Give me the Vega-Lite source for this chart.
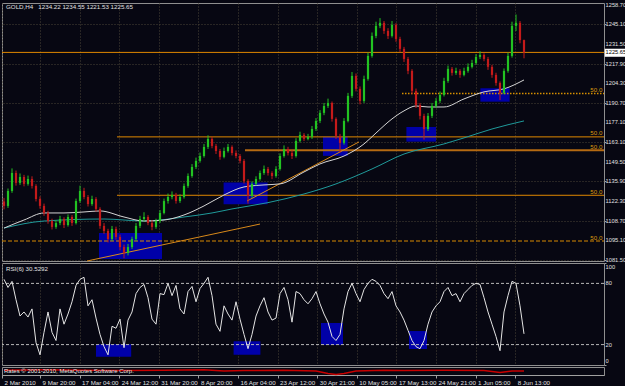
{
"$schema":"https://vega.github.io/schema/vega-lite/v6.json",
"autosize":{"type":"pad"},
"padding":{"left":0,"top":1,"right":0,"bottom":0},
"background":"#070712",
"spacing":2,
"bounds":"flush",
"config":{
 "view":{"stroke":"#8f8f8f","strokeWidth":1},
 "font":"Liberation Sans",
 "text":{"font":"Liberation Sans"},
 "axis":{"labelFont":"Liberation Sans","labelFontSize":6.2,"labelColor":"#e0e0e0","tickColor":"#a0a0a0","domainColor":"#a0a0a0","gridColor":"#4a4436","gridDash":[1,2],"gridOpacity":1,"labelOverlap":false}
},
"datasets":{
 "bars":[
{"i":0,"o":1122.0,"h":1124.5,"l":1116.5,"c":1118.9,"r":84},
{"i":1,"o":1118.9,"h":1131.0,"l":1117.5,"c":1129.3,"r":76},
{"i":2,"o":1129.3,"h":1145.0,"l":1128.0,"c":1141.8,"r":82},
{"i":3,"o":1141.8,"h":1143.5,"l":1133.0,"c":1134.9,"r":64},
{"i":4,"o":1134.9,"h":1141.5,"l":1133.5,"c":1139.0,"r":48},
{"i":5,"o":1139.0,"h":1140.5,"l":1132.5,"c":1134.2,"r":52},
{"i":6,"o":1134.2,"h":1140.0,"l":1133.0,"c":1137.6,"r":47},
{"i":7,"o":1137.6,"h":1139.5,"l":1131.0,"c":1132.8,"r":55},
{"i":8,"o":1132.8,"h":1134.0,"l":1122.0,"c":1123.7,"r":22},
{"i":9,"o":1123.7,"h":1125.5,"l":1117.0,"c":1118.9,"r":10},
{"i":10,"o":1118.9,"h":1120.5,"l":1112.0,"c":1114.0,"r":32},
{"i":11,"o":1114.0,"h":1115.5,"l":1106.5,"c":1108.4,"r":52},
{"i":12,"o":1108.4,"h":1110.0,"l":1102.5,"c":1104.3,"r":32},
{"i":13,"o":1104.3,"h":1109.0,"l":1103.0,"c":1107.0,"r":24},
{"i":14,"o":1107.0,"h":1112.0,"l":1105.5,"c":1109.8,"r":55},
{"i":15,"o":1109.8,"h":1111.0,"l":1103.5,"c":1105.6,"r":40},
{"i":16,"o":1105.6,"h":1113.0,"l":1104.5,"c":1111.2,"r":50},
{"i":17,"o":1111.2,"h":1112.5,"l":1105.0,"c":1107.0,"r":62},
{"i":18,"o":1107.0,"h":1124.0,"l":1106.0,"c":1122.3,"r":78},
{"i":19,"o":1122.3,"h":1133.0,"l":1121.0,"c":1129.3,"r":84},
{"i":20,"o":1129.3,"h":1131.5,"l":1123.5,"c":1125.1,"r":86},
{"i":21,"o":1125.1,"h":1126.5,"l":1118.5,"c":1120.2,"r":58},
{"i":22,"o":1120.2,"h":1126.0,"l":1119.0,"c":1123.7,"r":64},
{"i":23,"o":1123.7,"h":1125.0,"l":1115.0,"c":1116.8,"r":46},
{"i":24,"o":1116.8,"h":1118.0,"l":1103.0,"c":1105.0,"r":30},
{"i":25,"o":1105.0,"h":1107.0,"l":1099.5,"c":1101.5,"r":18},
{"i":26,"o":1101.5,"h":1103.0,"l":1093.5,"c":1095.9,"r":10},
{"i":27,"o":1095.9,"h":1105.0,"l":1094.5,"c":1102.9,"r":38},
{"i":28,"o":1102.9,"h":1104.5,"l":1095.5,"c":1097.3,"r":36},
{"i":29,"o":1097.3,"h":1099.0,"l":1088.0,"c":1090.3,"r":45},
{"i":30,"o":1090.3,"h":1092.0,"l":1082.5,"c":1086.2,"r":17},
{"i":31,"o":1086.2,"h":1092.5,"l":1084.5,"c":1090.3,"r":44},
{"i":32,"o":1090.3,"h":1097.5,"l":1089.0,"c":1095.9,"r":52},
{"i":33,"o":1095.9,"h":1107.0,"l":1094.5,"c":1105.0,"r":70},
{"i":34,"o":1105.0,"h":1112.0,"l":1103.5,"c":1109.8,"r":76},
{"i":35,"o":1109.8,"h":1114.5,"l":1108.0,"c":1111.2,"r":79},
{"i":36,"o":1111.2,"h":1112.5,"l":1105.5,"c":1107.0,"r":66},
{"i":37,"o":1107.0,"h":1109.0,"l":1102.0,"c":1104.3,"r":45},
{"i":38,"o":1104.3,"h":1110.0,"l":1103.0,"c":1108.4,"r":40},
{"i":39,"o":1108.4,"h":1116.0,"l":1107.0,"c":1114.0,"r":70},
{"i":40,"o":1114.0,"h":1124.0,"l":1113.0,"c":1122.3,"r":69},
{"i":41,"o":1122.3,"h":1127.5,"l":1120.5,"c":1125.1,"r":80},
{"i":42,"o":1125.1,"h":1129.0,"l":1123.5,"c":1126.5,"r":68},
{"i":43,"o":1126.5,"h":1128.0,"l":1120.5,"c":1122.3,"r":78},
{"i":44,"o":1122.3,"h":1127.0,"l":1121.0,"c":1125.1,"r":55},
{"i":45,"o":1125.1,"h":1134.5,"l":1124.0,"c":1132.8,"r":50},
{"i":46,"o":1132.8,"h":1141.5,"l":1131.5,"c":1139.7,"r":72},
{"i":47,"o":1139.7,"h":1148.0,"l":1138.5,"c":1146.0,"r":77},
{"i":48,"o":1146.0,"h":1152.5,"l":1144.5,"c":1150.2,"r":62},
{"i":49,"o":1150.2,"h":1156.0,"l":1149.0,"c":1153.6,"r":75},
{"i":50,"o":1153.6,"h":1162.0,"l":1152.5,"c":1159.9,"r":80},
{"i":51,"o":1159.9,"h":1168.0,"l":1158.5,"c":1165.5,"r":86},
{"i":52,"o":1165.5,"h":1167.0,"l":1159.0,"c":1160.6,"r":68},
{"i":53,"o":1160.6,"h":1162.0,"l":1155.0,"c":1157.1,"r":40},
{"i":54,"o":1157.1,"h":1158.5,"l":1151.0,"c":1153.0,"r":33},
{"i":55,"o":1153.0,"h":1159.5,"l":1152.0,"c":1157.1,"r":58},
{"i":56,"o":1157.1,"h":1162.0,"l":1156.0,"c":1159.9,"r":50},
{"i":57,"o":1159.9,"h":1161.0,"l":1154.0,"c":1155.7,"r":44},
{"i":58,"o":1155.7,"h":1157.5,"l":1152.0,"c":1153.6,"r":62},
{"i":59,"o":1153.6,"h":1155.0,"l":1148.5,"c":1150.2,"r":45},
{"i":60,"o":1150.2,"h":1151.5,"l":1134.5,"c":1136.3,"r":30},
{"i":61,"o":1136.3,"h":1137.5,"l":1120.5,"c":1125.8,"r":16},
{"i":62,"o":1125.8,"h":1136.0,"l":1124.5,"c":1134.2,"r":30},
{"i":63,"o":1134.2,"h":1139.5,"l":1133.0,"c":1137.6,"r":48},
{"i":64,"o":1137.6,"h":1143.5,"l":1136.5,"c":1141.8,"r":58},
{"i":65,"o":1141.8,"h":1147.0,"l":1140.5,"c":1144.6,"r":66},
{"i":66,"o":1144.6,"h":1146.0,"l":1140.0,"c":1141.8,"r":52},
{"i":67,"o":1141.8,"h":1143.0,"l":1137.5,"c":1139.7,"r":44},
{"i":68,"o":1139.7,"h":1146.5,"l":1138.5,"c":1144.6,"r":46},
{"i":69,"o":1144.6,"h":1155.5,"l":1143.5,"c":1153.6,"r":70},
{"i":70,"o":1153.6,"h":1161.0,"l":1152.5,"c":1158.5,"r":76},
{"i":71,"o":1158.5,"h":1160.0,"l":1154.0,"c":1155.7,"r":64},
{"i":72,"o":1155.7,"h":1157.5,"l":1151.5,"c":1153.6,"r":42},
{"i":73,"o":1153.6,"h":1166.0,"l":1152.5,"c":1164.1,"r":72},
{"i":74,"o":1164.1,"h":1170.5,"l":1163.0,"c":1168.3,"r":70},
{"i":75,"o":1168.3,"h":1169.5,"l":1164.0,"c":1165.5,"r":64},
{"i":76,"o":1165.5,"h":1169.0,"l":1164.5,"c":1166.9,"r":60},
{"i":77,"o":1166.9,"h":1174.5,"l":1165.5,"c":1172.4,"r":65},
{"i":78,"o":1172.4,"h":1180.0,"l":1171.0,"c":1178.0,"r":72},
{"i":79,"o":1178.0,"h":1185.5,"l":1176.5,"c":1183.6,"r":60},
{"i":80,"o":1183.6,"h":1190.5,"l":1182.0,"c":1188.4,"r":50},
{"i":81,"o":1188.4,"h":1193.5,"l":1187.0,"c":1190.5,"r":42},
{"i":82,"o":1190.5,"h":1191.5,"l":1177.5,"c":1179.4,"r":28},
{"i":83,"o":1179.4,"h":1180.5,"l":1165.5,"c":1167.6,"r":24},
{"i":84,"o":1167.6,"h":1169.0,"l":1156.0,"c":1162.7,"r":30},
{"i":85,"o":1162.7,"h":1180.0,"l":1161.5,"c":1178.0,"r":55},
{"i":86,"o":1178.0,"h":1197.5,"l":1177.0,"c":1195.4,"r":72},
{"i":87,"o":1195.4,"h":1212.0,"l":1194.0,"c":1209.3,"r":80},
{"i":88,"o":1209.3,"h":1211.0,"l":1198.5,"c":1200.3,"r":70},
{"i":89,"o":1200.3,"h":1202.0,"l":1189.5,"c":1191.9,"r":62},
{"i":90,"o":1191.9,"h":1209.5,"l":1190.5,"c":1207.2,"r":74},
{"i":91,"o":1207.2,"h":1225.5,"l":1206.0,"c":1223.2,"r":80},
{"i":92,"o":1223.2,"h":1239.5,"l":1222.0,"c":1237.1,"r":84},
{"i":93,"o":1237.1,"h":1247.0,"l":1235.5,"c":1244.1,"r":82},
{"i":94,"o":1244.1,"h":1249.5,"l":1242.5,"c":1246.2,"r":78},
{"i":95,"o":1246.2,"h":1247.5,"l":1238.5,"c":1240.6,"r":70},
{"i":96,"o":1240.6,"h":1242.5,"l":1235.0,"c":1237.1,"r":65},
{"i":97,"o":1237.1,"h":1247.5,"l":1236.0,"c":1244.8,"r":72},
{"i":98,"o":1244.8,"h":1246.0,"l":1233.0,"c":1235.0,"r":58},
{"i":99,"o":1235.0,"h":1236.5,"l":1226.0,"c":1228.1,"r":52},
{"i":100,"o":1228.1,"h":1229.5,"l":1219.0,"c":1221.1,"r":44},
{"i":101,"o":1221.1,"h":1222.5,"l":1210.5,"c":1212.8,"r":34},
{"i":102,"o":1212.8,"h":1214.0,"l":1196.5,"c":1198.9,"r":24},
{"i":103,"o":1198.9,"h":1200.5,"l":1187.0,"c":1189.1,"r":18},
{"i":104,"o":1189.1,"h":1190.5,"l":1179.0,"c":1181.5,"r":16},
{"i":105,"o":1181.5,"h":1183.0,"l":1165.0,"c":1172.4,"r":24},
{"i":106,"o":1172.4,"h":1183.5,"l":1171.0,"c":1181.5,"r":40},
{"i":107,"o":1181.5,"h":1190.5,"l":1180.0,"c":1188.4,"r":52},
{"i":108,"o":1188.4,"h":1194.0,"l":1187.0,"c":1191.9,"r":58},
{"i":109,"o":1191.9,"h":1198.5,"l":1190.5,"c":1196.1,"r":62},
{"i":110,"o":1196.1,"h":1208.0,"l":1195.0,"c":1205.8,"r":72},
{"i":111,"o":1205.8,"h":1216.5,"l":1204.5,"c":1214.2,"r":76},
{"i":112,"o":1214.2,"h":1215.5,"l":1209.5,"c":1211.4,"r":68},
{"i":113,"o":1211.4,"h":1215.0,"l":1210.0,"c":1212.8,"r":70},
{"i":114,"o":1212.8,"h":1214.0,"l":1208.0,"c":1210.0,"r":62},
{"i":115,"o":1210.0,"h":1215.0,"l":1209.0,"c":1212.8,"r":70},
{"i":116,"o":1212.8,"h":1218.0,"l":1211.5,"c":1215.6,"r":74},
{"i":117,"o":1215.6,"h":1220.5,"l":1214.5,"c":1218.3,"r":78},
{"i":118,"o":1218.3,"h":1224.5,"l":1217.0,"c":1222.5,"r":80},
{"i":119,"o":1222.5,"h":1226.5,"l":1221.0,"c":1223.9,"r":79},
{"i":120,"o":1223.9,"h":1225.0,"l":1219.5,"c":1221.1,"r":66},
{"i":121,"o":1221.1,"h":1222.5,"l":1213.5,"c":1215.6,"r":52},
{"i":122,"o":1215.6,"h":1217.0,"l":1208.0,"c":1210.0,"r":40},
{"i":123,"o":1210.0,"h":1211.5,"l":1202.5,"c":1204.4,"r":28},
{"i":124,"o":1204.4,"h":1205.5,"l":1192.5,"c":1197.5,"r":14},
{"i":125,"o":1197.5,"h":1214.5,"l":1196.5,"c":1212.8,"r":52},
{"i":126,"o":1212.8,"h":1225.5,"l":1211.5,"c":1223.2,"r":68},
{"i":127,"o":1223.2,"h":1247.0,"l":1222.0,"c":1244.1,"r":82},
{"i":128,"o":1244.1,"h":1252.0,"l":1240.5,"c":1246.2,"r":80},
{"i":129,"o":1246.2,"h":1247.5,"l":1232.0,"c":1234.2,"r":58},
{"i":130,"o":1234.22,"h":1234.55,"l":1221.53,"c":1225.65,"r":30.5292}
 ],
 "fast":[
{"i":0,"p":1103.5},{"i":5,"p":1109.1},{"i":10,"p":1114.0},{"i":15,"p":1114.0},{"i":20,"p":1114.7},{"i":24,"p":1115.4},{"i":30,"p":1111.2},{"i":35,"p":1108.4},{"i":40,"p":1109.1},{"i":45,"p":1112.6},{"i":50,"p":1118.9},{"i":55,"p":1126.5},{"i":60,"p":1132.1},{"i":65,"p":1133.5},{"i":69,"p":1134.2},{"i":75,"p":1142.5},{"i":79,"p":1148.1},{"i":85,"p":1153.6},{"i":90,"p":1162.0},{"i":93,"p":1169.6},{"i":97,"p":1179.4},{"i":100,"p":1185.0},{"i":103,"p":1188.4},{"i":106,"p":1187.7},{"i":110,"p":1187.7},{"i":115,"p":1193.3},{"i":120,"p":1198.2},{"i":125,"p":1200.3},{"i":130,"p":1206.5}
 ],
 "slow":[
{"i":0,"p":1103.5},{"i":10,"p":1108.4},{"i":25,"p":1109.8},{"i":35,"p":1108.4},{"i":45,"p":1111.2},{"i":52,"p":1114.0},{"i":57,"p":1116.8},{"i":66,"p":1121.2},{"i":75,"p":1127.2},{"i":83,"p":1134.2},{"i":92,"p":1144.6},{"i":100,"p":1155.0},{"i":110,"p":1162.0},{"i":115,"p":1166.2},{"i":122,"p":1172.4},{"i":130,"p":1178.0}
 ],
 "osc":[
{"i":0,"v":6},{"i":10,"v":6.5},{"i":20,"v":6},{"i":30,"v":5.5},{"i":40,"v":6},{"i":50,"v":6.5},{"i":55,"v":5},{"i":60,"v":5.5},{"i":70,"v":6},{"i":78,"v":5},{"i":81,"v":2},{"i":83,"v":0.5},{"i":85,"v":2},{"i":88,"v":5},{"i":95,"v":6},{"i":100,"v":5.5},{"i":110,"v":6},{"i":120,"v":5.5},{"i":124,"v":3},{"i":127,"v":5},{"i":130,"v":5}
 ],
 "pticks":[
{"p":1258.7},{"p":1245.1},{"p":1231.5},{"p":1217.9},{"p":1204.3},{"p":1190.7},{"p":1177.1},{"p":1163.1},{"p":1149.5},{"p":1135.9},{"p":1122.3},{"p":1108.7},{"p":1095.1},{"p":1081.5}
 ]
},
"vconcat":[
{
 "width":602,"height":258,
 "layer":[
  {"data":{"values":[{"a":23.75,"b":39.5,"p1":1082.0,"p2":1100.1},{"a":54.9,"b":65.9,"p1":1120.0,"p2":1135.1},{"a":79.75,"b":85.9,"p1":1153.7,"p2":1166.9},{"a":100.6,"b":108,"p1":1163.6,"p2":1173.8},{"a":119.1,"b":126.4,"p1":1191.4,"p2":1200.7}]},
   "mark":{"type":"rect","color":"#0000a8"},
   "encoding":{
    "x":{"field":"a","type":"quantitative","scale":{"domain":[-0.5,150],"nice":false,"zero":false},"axis":{"title":null,"values":[-0.5,9,18.9,28.8,38.7,48.6,58.5,68.4,78.3,88.2,98.1,108,117.9,127.8],"labels":false,"ticks":false,"domain":false,"grid":true}},
    "x2":{"field":"b"},
    "y":{"field":"p1","type":"quantitative","scale":{"domain":[1080.6,1260],"nice":false,"zero":false},"axis":{"title":null,"orient":"right","values":[1258.7,1245.1,1231.5,1217.9,1204.3,1190.7,1177.1,1163.1,1149.5,1135.9,1122.3,1108.7,1095.1,1081.5],"labels":false,"grid":true,"domain":false,"tickSize":2}},
    "y2":{"field":"p2"}}},
  {"data":{"values":[{"from":-0.5,"to":150,"p":1225.65},{"from":28.25,"to":150,"p":1166.9},{"from":28.25,"to":150,"p":1126.3}]},
   "mark":{"type":"rule","color":"#e08800","strokeWidth":1},
   "encoding":{"x":{"field":"from","type":"quantitative","scale":{"domain":[-0.5,150],"nice":false,"zero":false}},"x2":{"field":"to"},"y":{"field":"p","type":"quantitative","scale":{"domain":[1080.6,1260],"nice":false,"zero":false}}}},
  {"data":{"values":[{"from":60.25,"to":150,"p":1157.6}]},
   "mark":{"type":"rule","color":"#b56a12","strokeWidth":2},
   "encoding":{"x":{"field":"from","type":"quantitative","scale":{"domain":[-0.5,150],"nice":false,"zero":false}},"x2":{"field":"to"},"y":{"field":"p","type":"quantitative","scale":{"domain":[1080.6,1260],"nice":false,"zero":false}}}},
  {"data":{"values":[{"from":99.5,"to":150,"p":1197.0}]},
   "mark":{"type":"rule","color":"#d89000","strokeWidth":1.5,"strokeDash":[1.5,1.5]},
   "encoding":{"x":{"field":"from","type":"quantitative","scale":{"domain":[-0.5,150],"nice":false,"zero":false}},"x2":{"field":"to"},"y":{"field":"p","type":"quantitative","scale":{"domain":[1080.6,1260],"nice":false,"zero":false}}}},
  {"data":{"values":[{"from":-0.5,"to":150,"p":1094.5}]},
   "mark":{"type":"rule","color":"#d88a00","strokeWidth":1,"strokeDash":[4,2]},
   "encoding":{"x":{"field":"from","type":"quantitative","scale":{"domain":[-0.5,150],"nice":false,"zero":false}},"x2":{"field":"to"},"y":{"field":"p","type":"quantitative","scale":{"domain":[1080.6,1260],"nice":false,"zero":false}}}},
  {"data":{"values":[{"id":1,"i":20.75,"p":1080.6},{"id":1,"i":64,"p":1106.3},{"id":2,"i":60.75,"p":1122.3},{"id":2,"i":88.75,"p":1163.4}]},
   "mark":{"type":"line","color":"#d8891a","strokeWidth":1},
   "encoding":{"x":{"field":"i","type":"quantitative","scale":{"domain":[-0.5,150],"nice":false,"zero":false}},"y":{"field":"p","type":"quantitative","scale":{"domain":[1080.6,1260],"nice":false,"zero":false}},"detail":{"field":"id","type":"nominal"}}},
  {"data":{"name":"slow"},
   "mark":{"type":"line","color":"#1f9a9a","strokeWidth":1,"interpolate":"monotone"},
   "encoding":{"x":{"field":"i","type":"quantitative","scale":{"domain":[-0.5,150],"nice":false,"zero":false}},"y":{"field":"p","type":"quantitative","scale":{"domain":[1080.6,1260],"nice":false,"zero":false}}}},
  {"data":{"name":"fast"},
   "mark":{"type":"line","color":"#d4d4d4","strokeWidth":1,"interpolate":"monotone"},
   "encoding":{"x":{"field":"i","type":"quantitative","scale":{"domain":[-0.5,150],"nice":false,"zero":false}},"y":{"field":"p","type":"quantitative","scale":{"domain":[1080.6,1260],"nice":false,"zero":false}}}},
  {"data":{"name":"bars"},
   "mark":{"type":"rule","strokeWidth":1},
   "encoding":{"x":{"field":"i","type":"quantitative","scale":{"domain":[-0.5,150],"nice":false,"zero":false}},"y":{"field":"l","type":"quantitative","scale":{"domain":[1080.6,1260],"nice":false,"zero":false}},"y2":{"field":"h"},
    "color":{"condition":{"test":"datum.c >= datum.o","value":"#22c322"},"value":"#c41a1a"}}},
  {"data":{"name":"bars"},
   "mark":{"type":"rule","strokeWidth":2.2,"strokeCap":"butt"},
   "encoding":{"x":{"field":"i","type":"quantitative","scale":{"domain":[-0.5,150],"nice":false,"zero":false}},"y":{"field":"o","type":"quantitative","scale":{"domain":[1080.6,1260],"nice":false,"zero":false}},"y2":{"field":"c"},
    "color":{"condition":{"test":"datum.c >= datum.o","value":"#22c322"},"value":"#c41a1a"}}},
  {"data":{"values":[{"p":1197.0,"t":"50.0"},{"p":1166.9,"t":"50.0"},{"p":1157.6,"t":"50.0"},{"p":1126.3,"t":"50.0"},{"p":1094.5,"t":"50.0"}]},
   "mark":{"type":"text","align":"right","baseline":"bottom","dy":-0.5,"color":"#d89a10","fontSize":6.2,"font":"Liberation Sans"},
   "encoding":{"x":{"datum":149.6,"type":"quantitative","scale":{"domain":[-0.5,150],"nice":false,"zero":false}},"y":{"field":"p","type":"quantitative","scale":{"domain":[1080.6,1260],"nice":false,"zero":false}},"text":{"field":"t"}}},
  {"data":{"values":[{"t":"GOLD,H4\u00a0\u00a0 1234.22 1234.55 1221.53 1225.65"}]},
   "mark":{"type":"text","align":"left","baseline":"middle","color":"#e0e0e0","fontSize":6.2,"font":"Liberation Sans"},
   "encoding":{"x":{"datum":0.5,"type":"quantitative","scale":{"domain":[-0.5,150],"nice":false,"zero":false}},"y":{"datum":1257.0,"type":"quantitative","scale":{"domain":[1080.6,1260],"nice":false,"zero":false}},"text":{"field":"t"}}},
  {"data":{"name":"pticks"},
   "mark":{"type":"text","align":"left","baseline":"middle","color":"#e0e0e0","fontSize":5.7,"font":"Liberation Sans"},
   "encoding":{"x":{"datum":150.4,"type":"quantitative","scale":{"domain":[-0.5,150],"nice":false,"zero":false}},"y":{"field":"p","type":"quantitative","scale":{"domain":[1080.6,1260],"nice":false,"zero":false}},"text":{"field":"p","type":"quantitative","format":".2f"}}},
  {"data":{"values":[{"p":1225.65}]},
   "mark":{"type":"rect","color":"#ffffff"},
   "encoding":{"x":{"datum":150.2,"type":"quantitative","scale":{"domain":[-0.5,150],"nice":false,"zero":false}},"x2":{"datum":157},"y":{"datum":1228.2,"type":"quantitative","scale":{"domain":[1080.6,1260],"nice":false,"zero":false}},"y2":{"datum":1222.6}}},
  {"data":{"values":[{"p":1225.65,"t":"1225.65"}]},
   "mark":{"type":"text","align":"left","baseline":"middle","color":"#000000","fontSize":5.7,"font":"Liberation Sans"},
   "encoding":{"x":{"datum":150.4,"type":"quantitative","scale":{"domain":[-0.5,150],"nice":false,"zero":false}},"y":{"field":"p","type":"quantitative","scale":{"domain":[1080.6,1260],"nice":false,"zero":false}},"text":{"field":"t"}}}
 ]
},
{
 "width":602,"height":102,
 "layer":[
  {"data":{"values":[{"a":23,"b":31.8,"r1":8.1,"r2":20.3},{"a":57.4,"b":64.1,"r1":10.1,"r2":23.2},{"a":79.25,"b":84.75,"r1":19.6,"r2":41.2},{"a":101.25,"b":105.75,"r1":15.7,"r2":33.3}]},
   "mark":{"type":"rect","color":"#0000a8"},
   "encoding":{
    "x":{"field":"a","type":"quantitative","scale":{"domain":[-0.5,150],"nice":false,"zero":false},"axis":{"title":null,"values":[-0.5,9,18.9,28.8,38.7,48.6,58.5,68.4,78.3,88.2,98.1,108,117.9,127.8],"labels":false,"ticks":false,"domain":false,"grid":true}},
    "x2":{"field":"b"},
    "y":{"field":"r1","type":"quantitative","scale":{"domain":[0,100],"nice":false,"zero":false},"axis":{"title":null,"orient":"right","values":[0,20,80,100],"labels":false,"grid":false,"domain":false,"tickSize":2}},
    "y2":{"field":"r2"}}},
  {"data":{"values":[{"v":20},{"v":80}]},
   "mark":{"type":"rule","color":"#b8b8b8","strokeWidth":1,"strokeDash":[3,2]},
   "encoding":{"y":{"field":"v","type":"quantitative","scale":{"domain":[0,100],"nice":false,"zero":false}}}},
  {"data":{"name":"bars"},
   "mark":{"type":"line","color":"#e4e4e4","strokeWidth":1},
   "encoding":{"x":{"field":"i","type":"quantitative","scale":{"domain":[-0.5,150],"nice":false,"zero":false}},"y":{"field":"r","type":"quantitative","scale":{"domain":[0,100],"nice":false,"zero":false}}}},
  {"data":{"values":[{"v":20},{"v":80}]},
   "mark":{"type":"text","align":"left","baseline":"middle","color":"#e0e0e0","fontSize":5.7,"font":"Liberation Sans"},
   "encoding":{"x":{"datum":150.4,"type":"quantitative","scale":{"domain":[-0.5,150],"nice":false,"zero":false}},"y":{"field":"v","type":"quantitative","scale":{"domain":[0,100],"nice":false,"zero":false}},"text":{"field":"v","type":"quantitative"}}},
  {"data":{"values":[{"v":100}]},
   "mark":{"type":"text","align":"left","baseline":"top","dy":1,"color":"#e0e0e0","fontSize":5.7,"font":"Liberation Sans"},
   "encoding":{"x":{"datum":150.4,"type":"quantitative","scale":{"domain":[-0.5,150],"nice":false,"zero":false}},"y":{"field":"v","type":"quantitative","scale":{"domain":[0,100],"nice":false,"zero":false}},"text":{"field":"v","type":"quantitative"}}},
  {"data":{"values":[{"v":0}]},
   "mark":{"type":"text","align":"left","baseline":"bottom","dy":-1,"color":"#e0e0e0","fontSize":5.7,"font":"Liberation Sans"},
   "encoding":{"x":{"datum":150.4,"type":"quantitative","scale":{"domain":[-0.5,150],"nice":false,"zero":false}},"y":{"field":"v","type":"quantitative","scale":{"domain":[0,100],"nice":false,"zero":false}},"text":{"field":"v","type":"quantitative"}}},
  {"data":{"values":[{"t":"RSI(6) 30.5292"}]},
   "mark":{"type":"text","align":"left","baseline":"middle","color":"#e0e0e0","fontSize":6.2,"font":"Liberation Sans"},
   "encoding":{"x":{"datum":0.5,"type":"quantitative","scale":{"domain":[-0.5,150],"nice":false,"zero":false}},"y":{"datum":94,"type":"quantitative","scale":{"domain":[0,100],"nice":false,"zero":false}},"text":{"field":"t"}}}
 ]
},
{
 "width":602,"height":8,
 "layer":[
  {"data":{"name":"osc"},
   "mark":{"type":"line","color":"#c80000","strokeWidth":1.5},
   "encoding":{
    "x":{"field":"i","type":"quantitative","scale":{"domain":[-0.5,150],"nice":false,"zero":false},"axis":{"title":null,"orient":"bottom","values":[-0.5,9,18.9,28.8,38.7,48.6,58.5,68.4,78.3,88.2,98.1,108,117.9,127.8],"labelExpr":"['2 Mar 2010','9 Mar 20:00','17 Mar 04:00','24 Mar 12:00','31 Mar 20:00','8 Apr 20:00','16 Apr 04:00','23 Apr 12:00','30 Apr 21:00','10 May 05:00','17 May 13:00','24 May 21:00','1 Jun 05:00','8 Jun 13:00'][round((datum.value+0.9)/9.9)]","labelAlign":"left","labelOffset":2,"labelFlush":false,"labelOverlap":false,"labelBound":false,"tickSize":3,"labelPadding":1,"domain":true,"grid":false}},
    "y":{"field":"v","type":"quantitative","scale":{"domain":[0,10],"nice":false,"zero":false},"axis":null}}},
  {"data":{"values":[{"t":"Rates \u00a9 2001-2010, MetaQuotes Software Corp."}]},
   "mark":{"type":"text","align":"left","baseline":"middle","color":"#e8e8e8","fontSize":6,"font":"Liberation Sans"},
   "encoding":{"x":{"datum":0,"type":"quantitative","scale":{"domain":[-0.5,150],"nice":false,"zero":false}},"y":{"datum":5,"type":"quantitative","scale":{"domain":[0,10],"nice":false,"zero":false},"axis":null},"text":{"field":"t"}}}
 ]
}
]
}
